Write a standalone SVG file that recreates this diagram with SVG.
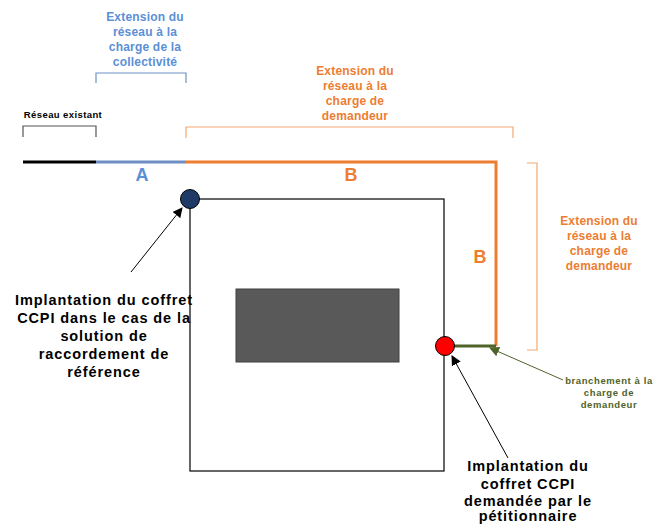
<svg xmlns="http://www.w3.org/2000/svg" width="666" height="524" viewBox="0 0 666 524">
<defs>
<style>
text{font-family:"Liberation Sans",Arial,sans-serif;font-weight:bold;text-anchor:middle}
.blue{fill:#5b8fd6;font-size:12px;letter-spacing:0.2px}
.orange{fill:#ed7d31;font-size:12px;letter-spacing:0.2px}
.big{fill:#000;font-size:14.5px;letter-spacing:0.9px}
.green{fill:#4f6228;font-size:9.5px;letter-spacing:0.6px}
.letter{font-size:18px}
.br{fill:none;stroke-width:1.2}
</style>
<marker id="ah" viewBox="0 0 10 10" refX="9" refY="5" markerWidth="10" markerHeight="10" markerUnits="userSpaceOnUse" orient="auto">
<path d="M0,0 L10,5 L0,10 z" fill="#000"/>
</marker>
<marker id="ahg" viewBox="0 0 10 10" refX="9" refY="5" markerWidth="10" markerHeight="10" markerUnits="userSpaceOnUse" orient="auto">
<path d="M0,0 L10,5 L0,10 z" fill="#4f6228"/>
</marker>
</defs>
<rect width="666" height="524" fill="#fff"/>
<g id="parcel">
<rect x="190" y="199" width="254" height="272" fill="none" stroke="#000" stroke-width="1.2"/>
<rect x="236" y="289" width="163" height="73" fill="#595959" stroke="#404040" stroke-width="1"/>
</g>
<g id="connectors">
<line x1="23" y1="162" x2="96" y2="162" stroke="#000" stroke-width="3"/>
<line x1="96" y1="162" x2="186" y2="162" stroke="#6f8fc4" stroke-width="3"/>
<polyline points="186,162 496,162 496,346" fill="none" stroke="#ed7d31" stroke-width="3"/>
<line x1="452" y1="346" x2="496" y2="346" stroke="#4f6228" stroke-width="3"/>
<line x1="563" y1="380" x2="490" y2="348" stroke="#4f6228" stroke-width="1" marker-end="url(#ahg)"/>
<line x1="131" y1="272" x2="182" y2="208" stroke="#000" stroke-width="1" marker-end="url(#ah)"/>
<line x1="508" y1="458" x2="452" y2="356" stroke="#000" stroke-width="1" marker-end="url(#ah)"/>
</g>
<g id="brackets">
<path class="br" d="M23,137 V126 H96 V137" stroke="#555"/>
<path class="br" d="M96,83 V73 H186 V83" stroke="#6f8fc4"/>
<path class="br" d="M186,138 V127 H513 V138" stroke="#f4a870"/>
<path class="br" d="M527,163 H537 V350 H527" stroke="#f4a870"/>
</g>
<g id="coffret-ref"><circle cx="190" cy="199" r="9.5" fill="#1f3a66" stroke="#000" stroke-width="1"/></g>
<g id="coffret-demande"><circle cx="445" cy="346" r="9.5" fill="#ff0000" stroke="#000" stroke-width="1"/></g>
<g id="label-collectivite">
<text class="blue" x="145" y="21">Extension du</text>
<text class="blue" x="145" y="36">réseau  à la</text>
<text class="blue" x="145" y="51">charge de la</text>
<text class="blue" x="145" y="66">collectivité</text>
</g>
<g id="label-existant"><text x="63" y="118" style="font-size:9.5px;fill:#000;letter-spacing:0.4px">Réseau existant</text></g>
<g id="label-A"><text class="letter" x="142" y="181" fill="#5b8fd6">A</text></g>
<g id="label-B1"><text class="letter" x="351" y="181" fill="#ed7d31">B</text></g>
<g id="label-B2"><text class="letter" x="480" y="263" fill="#ed7d31">B</text></g>
<g id="label-demandeur-top">
<text class="orange" x="355" y="75">Extension du</text>
<text class="orange" x="355" y="90">réseau  à la</text>
<text class="orange" x="355" y="105">charge de</text>
<text class="orange" x="355" y="120">demandeur</text>
</g>
<g id="label-demandeur-right">
<text class="orange" x="599" y="225">Extension du</text>
<text class="orange" x="599" y="240">réseau  à la</text>
<text class="orange" x="599" y="255">charge de</text>
<text class="orange" x="599" y="270">demandeur</text>
</g>
<g id="label-branchement">
<text class="green" x="609" y="384">branchement  à la</text>
<text class="green" x="609" y="396">charge de</text>
<text class="green" x="609" y="408">demandeur</text>
</g>
<g id="label-ref">
<text class="big" x="104" y="305">Implantation du coffret</text>
<text class="big" x="104" y="323">CCPI dans le cas de la</text>
<text class="big" x="104" y="341">solution de</text>
<text class="big" x="104" y="359">raccordement de</text>
<text class="big" x="104" y="377">référence</text>
</g>
<g id="label-demandee">
<text class="big" x="528" y="471">Implantation du</text>
<text class="big" x="528" y="489">coffret CCPI</text>
<text class="big" x="528" y="506">demandée par le</text>
<text class="big" x="528" y="521">pétitionnaire</text>
</g>
</svg>
